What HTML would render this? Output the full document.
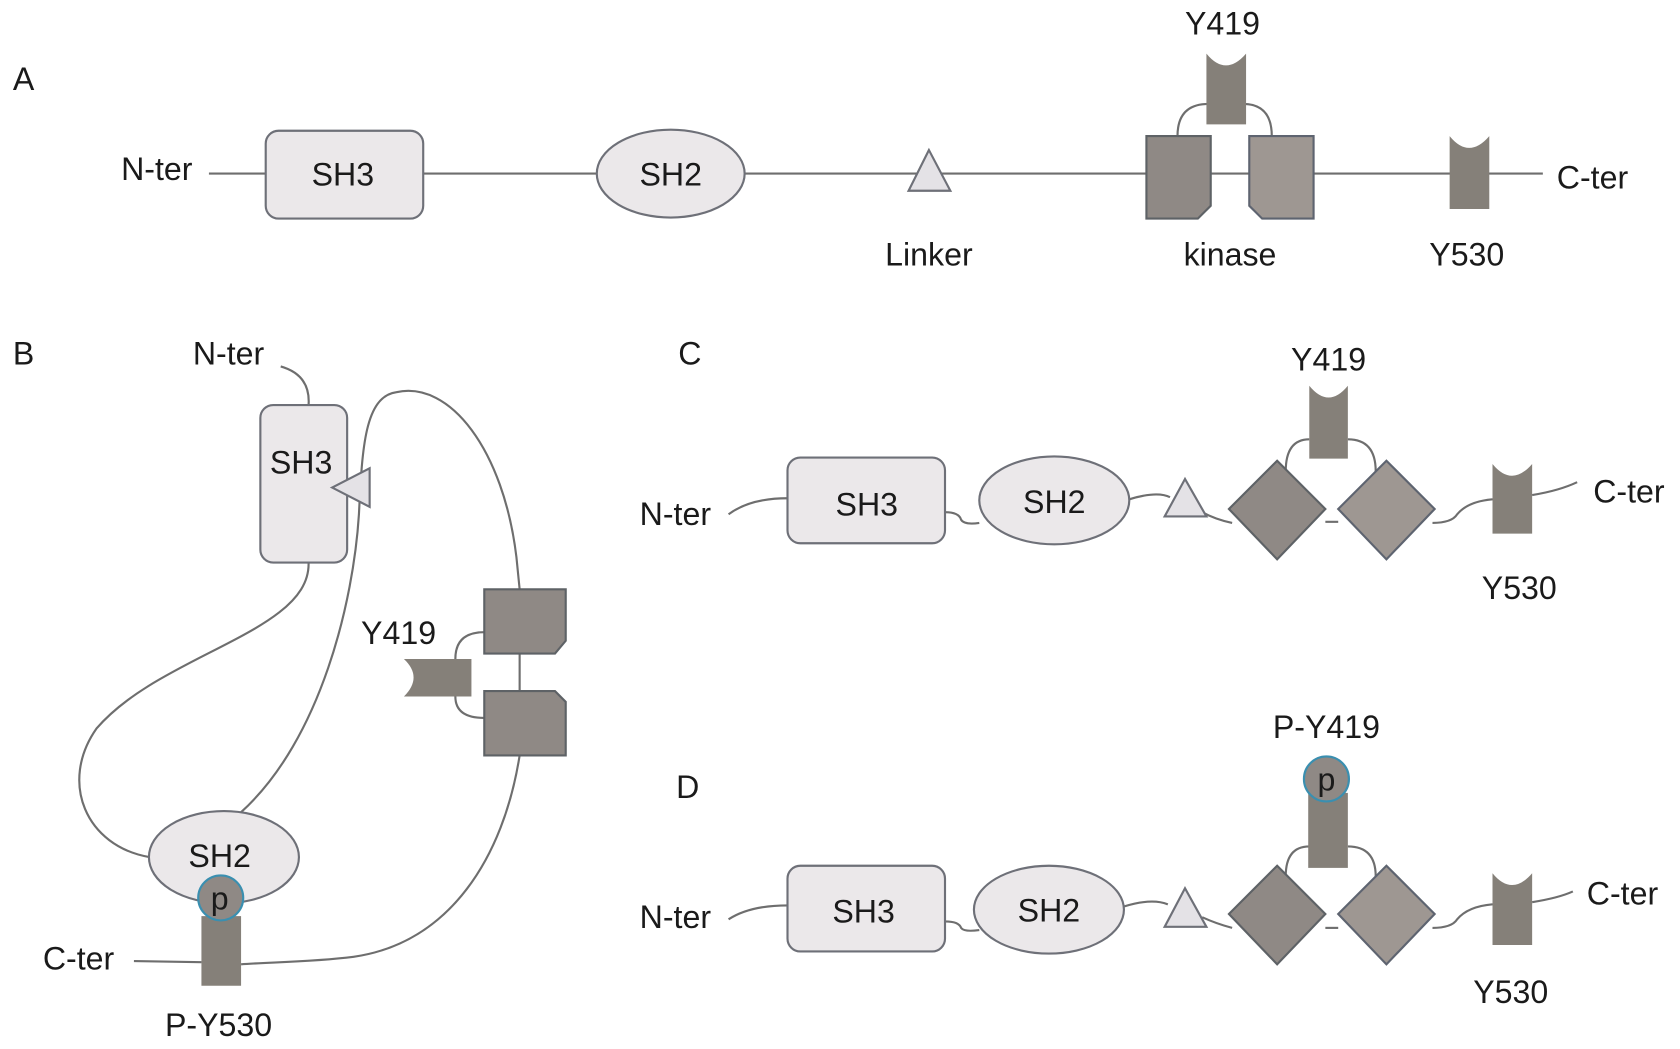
<!DOCTYPE html>
<html><head><meta charset="utf-8"><style>
html,body{margin:0;padding:0;background:#fff;}
svg{display:block;}
text{font-family:"Liberation Sans",sans-serif;font-size:30px;fill:#1a1a1a;}
</style></head><body>
<svg width="1680" height="1049" viewBox="0 0 1568 979" xmlns="http://www.w3.org/2000/svg">
<g fill="none" stroke="#6e6e6e" stroke-width="2">
<line x1="195" y1="162" x2="1440" y2="162"/>
<path d="M1099 127 Q1099 97 1128 97"/>
<path d="M1187 127 Q1187 97 1160 97"/>
<path d="M262 342 Q290 350 288 378"/>
<path d="M288 525 C290 590 150 610 90 680 C55 730 80 790 140 800"/>
<path d="M225 758 C300 690 330 560 335 480 C338 420 340 370 370 366 C420 355 470 420 482 520 L485 550"/>
<path d="M485 610 L485 645"/>
<path d="M485 705 C470 800 420 880 330 893 C290 898 250 898 225 900"/>
<path d="M125 897 L188 898"/>
<path d="M452 590 Q425 590 425 615"/>
<path d="M452 670 Q425 670 425 650"/>
<path d="M680 480 Q700 465 735 465"/>
<path d="M882 478 Q895 478 897 485 Q900 490 914 488"/>
<path d="M1054 466 Q1080 458 1092 464"/>
<path d="M1122 478 Q1135 485 1150 488"/>
<path d="M1237 487 L1249 487"/>
<path d="M1337 488 Q1355 488 1360 480 Q1370 468 1393 466"/>
<path d="M1430 462 Q1455 458 1472 450"/>
<path d="M1200 440 Q1200 410 1222 410"/>
<path d="M1284 440 Q1284 410 1258 410"/>
<path d="M680 858 Q700 845 735 845"/>
<path d="M882 860 Q895 860 897 866 Q900 870 914 868"/>
<path d="M1049 846 Q1075 838 1090 844"/>
<path d="M1122 856 Q1135 862 1150 866"/>
<path d="M1237 866 L1249 866"/>
<path d="M1337 866 Q1355 866 1360 858 Q1370 846 1393 844"/>
<path d="M1430 842 Q1455 838 1468 832"/>
<path d="M1200 818 Q1200 790 1222 790"/>
<path d="M1284 818 Q1284 790 1258 790"/>
</g>

<rect x="248" y="122" width="147" height="82" rx="12" fill="#ebe8ea" stroke="#6e7078" stroke-width="2"/>
<ellipse cx="626" cy="162" rx="69" ry="41" fill="#ebe8ea" stroke="#6e7078" stroke-width="2"/>
<polygon points="867,140 848,178 887,178" fill="#e4e2e6" stroke="#6e7078" stroke-width="2"/>
<path d="M1070 127 H1130 V192 L1118 204 H1070 Z" fill="#8f8985" stroke="#5e6266" stroke-width="2"/>
<path d="M1166 127 H1226 V204 H1178 L1166 192 Z" fill="#9e9792" stroke="#5e6470" stroke-width="2"/>
<path d="M1126 50 Q1144 72 1163 50 V116 H1126 Z" fill="#858079"/>
<path d="M1353 127 Q1371 149 1390 127 V195 H1353 Z" fill="#858079"/>

<rect x="243" y="378" width="81" height="147" rx="12" fill="#ebe8ea" stroke="#6e7078" stroke-width="2"/>
<polygon points="310,455 345,437 345,473" fill="#e4e2e6" stroke="#6e7078" stroke-width="2"/>
<path d="M452 550 H528 V598 L518 610 H452 Z" fill="#8f8985" stroke="#5e6266" stroke-width="2"/>
<path d="M452 645 H518 L528 655 V705 H452 Z" fill="#8f8985" stroke="#5e6266" stroke-width="2"/>
<path d="M377 615 H440 V650 H377 Q395 632 377 615 Z" fill="#858079"/>
<ellipse cx="209" cy="800" rx="70" ry="43" fill="#ebe8ea" stroke="#6e7078" stroke-width="2"/>
<rect x="188" y="855" width="37" height="65" fill="#858079"/>
<circle cx="206" cy="838" r="21" fill="#8f8985" stroke="#3a8fb0" stroke-width="2"/>

<rect x="735" y="427" width="147" height="80" rx="12" fill="#ebe8ea" stroke="#6e7078" stroke-width="2"/>
<ellipse cx="984" cy="467" rx="70" ry="41" fill="#ebe8ea" stroke="#6e7078" stroke-width="2"/>
<polygon points="1106,447 1087,482 1126,482" fill="#e4e2e6" stroke="#6e7078" stroke-width="2"/>
<polygon points="1192,430 1237,475 1192,522 1147,475" fill="#8f8985" stroke="#5e6266" stroke-width="2"/>
<polygon points="1294,430 1339,475 1294,522 1249,475" fill="#9e9792" stroke="#5e6470" stroke-width="2"/>
<path d="M1222 360 Q1240 382 1258 360 V428 H1222 Z" fill="#858079"/>
<path d="M1393 433 Q1411 455 1430 433 V498 H1393 Z" fill="#858079"/>

<rect x="735" y="808" width="147" height="80" rx="12" fill="#ebe8ea" stroke="#6e7078" stroke-width="2"/>
<ellipse cx="979" cy="849" rx="70" ry="41" fill="#ebe8ea" stroke="#6e7078" stroke-width="2"/>
<polygon points="1106,829 1087,865 1126,865" fill="#e4e2e6" stroke="#6e7078" stroke-width="2"/>
<polygon points="1192,808 1237,853 1192,900 1147,853" fill="#8f8985" stroke="#5e6266" stroke-width="2"/>
<polygon points="1294,808 1339,853 1294,900 1249,853" fill="#9e9792" stroke="#5e6470" stroke-width="2"/>
<rect x="1221" y="740" width="37" height="70" fill="#858079"/>
<circle cx="1238" cy="727" r="21" fill="#8f8985" stroke="#3a8fb0" stroke-width="2"/>
<path d="M1393 815 Q1411 837 1430 815 V882 H1393 Z" fill="#858079"/>

<text x="12" y="84">A</text>
<text x="113" y="168">N-ter</text>
<text x="320" y="173" text-anchor="middle">SH3</text>
<text x="626" y="173" text-anchor="middle">SH2</text>
<text x="867" y="248" text-anchor="middle">Linker</text>
<text x="1148" y="248" text-anchor="middle">kinase</text>
<text x="1141" y="32" text-anchor="middle">Y419</text>
<text x="1369" y="248" text-anchor="middle">Y530</text>
<text x="1453" y="176">C-ter</text>

<text x="12" y="340">B</text>
<text x="180" y="340">N-ter</text>
<text x="281" y="442" text-anchor="middle">SH3</text>
<text x="372" y="601" text-anchor="middle">Y419</text>
<text x="205" y="809" text-anchor="middle">SH2</text>
<text x="205" y="849" text-anchor="middle">p</text>
<text x="40" y="905">C-ter</text>
<text x="204" y="967" text-anchor="middle">P-Y530</text>

<text x="633" y="340">C</text>
<text x="597" y="490">N-ter</text>
<text x="809" y="481" text-anchor="middle">SH3</text>
<text x="984" y="479" text-anchor="middle">SH2</text>
<text x="1240" y="346" text-anchor="middle">Y419</text>
<text x="1418" y="559" text-anchor="middle">Y530</text>
<text x="1487" y="469">C-ter</text>

<text x="631" y="745">D</text>
<text x="597" y="866">N-ter</text>
<text x="806" y="861" text-anchor="middle">SH3</text>
<text x="979" y="860" text-anchor="middle">SH2</text>
<text x="1238" y="689" text-anchor="middle">P-Y419</text>
<text x="1238" y="738" text-anchor="middle">p</text>
<text x="1410" y="936" text-anchor="middle">Y530</text>
<text x="1481" y="844">C-ter</text>
</svg>
</body></html>
